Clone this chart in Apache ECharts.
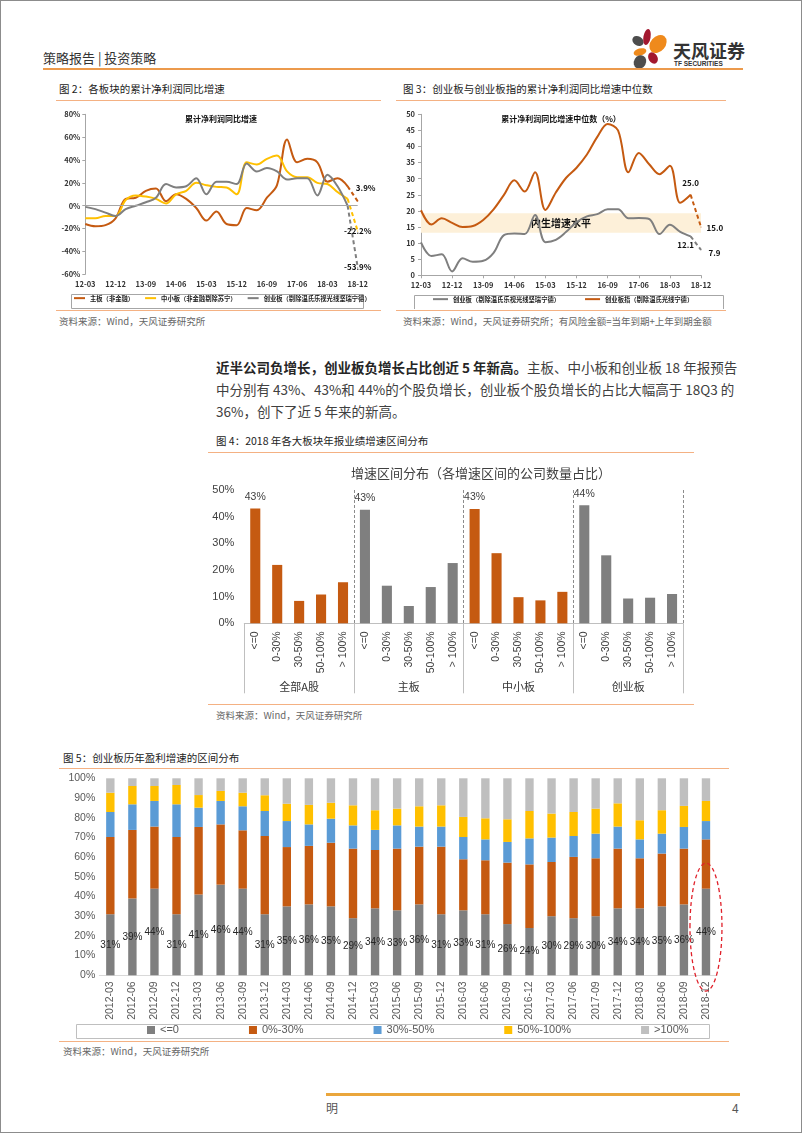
<!DOCTYPE html>
<html><head><meta charset="utf-8">
<script src="https://cdn.jsdelivr.net/npm/echarts@6/dist/echarts.min.js"></script>
<style>
body{margin:0;background:#fff;}
#page{position:relative;width:802px;height:1133px;box-sizing:border-box;border:1px solid #8c8c8c;overflow:hidden;font-family:"Noto Sans CJK SC",sans-serif;color:#333;background:#fff;}
.t{position:absolute;white-space:nowrap;}
.hl{position:absolute;height:1px;background:#f4b183;}
.ch{position:absolute;}
.src{position:absolute;white-space:nowrap;font-size:9.5px;color:#666;line-height:12px;}
.ft{position:absolute;white-space:nowrap;font-size:10.5px;color:#222;line-height:14px;}
.p{position:absolute;left:215px;white-space:nowrap;font-size:13.5px;line-height:20px;color:#404040;}
</style></head><body><div id="page">

<div class="t" style="left:42px;top:49px;font-size:13px;line-height:16px;color:#333;">策略报告&nbsp;|&nbsp;投资策略</div>
<svg style="position:absolute;left:628px;top:24px" width="50" height="48" viewBox="0 0 50 48">
  <ellipse cx="9" cy="16" rx="6" ry="4.5" transform="rotate(30 9 16)" fill="#4d4d4d"/>
  <ellipse cx="18" cy="12" rx="3.6" ry="8" transform="rotate(10 18 12)" fill="#a3182f"/>
  <ellipse cx="29" cy="19" rx="7.5" ry="10" transform="rotate(40 29 19)" fill="#ef8a1c"/>
  <ellipse cx="11" cy="27" rx="6.5" ry="3.6" transform="rotate(-15 11 27)" fill="#ef8a1c"/>
  <ellipse cx="11" cy="37" rx="6" ry="7" transform="rotate(30 11 37)" fill="#4d4d4d"/>
  <ellipse cx="24" cy="33" rx="4.5" ry="6" transform="rotate(-30 24 33)" fill="#a3182f"/>
</svg>
<div class="t" style="left:672px;top:39px;font-size:18px;line-height:20px;color:#333;font-weight:bold;letter-spacing:0px;">天风证券</div>
<div class="t" style="left:673px;top:59px;font-size:6.5px;line-height:8px;color:#333;font-weight:bold;font-family:'Liberation Sans',sans-serif;">TF SECURITIES</div>
<div style="position:absolute;left:42px;top:67px;width:700px;height:2px;background:#ec9a4c;"></div>

<div class="ft" style="left:58px;top:81px;">图 2：各板块的累计净利润同比增速</div>
<div class="hl" style="left:55px;top:99px;width:325px;"></div>
<div class="ft" style="left:402px;top:81px;">图 3：创业板与创业板指的累计净利润同比增速中位数</div>
<div class="hl" style="left:395px;top:99px;width:330px;"></div>
<div id="c2" class="ch" style="left:55px;top:100px;width:330px;height:208px;"></div>
<div id="c3" class="ch" style="left:390px;top:100px;width:340px;height:208px;"></div>
<div class="hl" style="left:55px;top:309px;width:325px;"></div>
<div class="hl" style="left:395px;top:309px;width:330px;"></div>
<div class="src" style="left:58px;top:314px;">资料来源：Wind，天风证券研究所</div>
<div class="src" style="left:402px;top:314px;">资料来源：Wind，天风证券研究所；有风险金额=当年到期+上年到期金额</div>

<div class="p" style="top:356px;"><b style="color:#262626">近半公司负增长，创业板负增长占比创近 5 年新高。</b>主板、中小板和创业板 18 年报预告</div>
<div class="p" style="top:378px;">中分别有 43%、43%和 44%的个股负增长，创业板个股负增长的占比大幅高于 18Q3 的</div>
<div class="p" style="top:400px;">36%，创下了近 5 年来的新高。</div>

<div class="ft" style="left:215px;top:433px;">图 4：2018 年各大板块年报业绩增速区间分布</div>
<div class="hl" style="left:207px;top:451px;width:486px;"></div>
<div id="c4" class="ch" style="left:200px;top:452px;width:560px;height:248px;"></div>
<div class="hl" style="left:207px;top:703px;width:486px;"></div>
<div class="src" style="left:215px;top:708px;">资料来源：Wind，天风证券研究所</div>

<div class="ft" style="left:62px;top:750px;">图 5：创业板历年盈利增速的区间分布</div>
<div class="hl" style="left:58px;top:767px;width:670px;"></div>
<div id="c5" class="ch" style="left:60px;top:770px;width:670px;height:268px;"></div>
<div class="hl" style="left:58px;top:1040px;width:670px;"></div>
<div class="src" style="left:62px;top:1044px;">资料来源：Wind，天风证券研究所</div>

<div style="position:absolute;left:325px;top:1092px;width:414px;height:3px;background:#eaa63c;"></div>
<div class="t" style="left:325px;top:1100px;font-size:12px;line-height:14px;color:#555;">明</div>
<div class="t" style="left:731px;top:1100px;font-size:12px;line-height:14px;color:#555;">4</div>
</div>

<script>
// ---------- data ----------
const quarters = ['12-03','12-06','12-09','12-12','13-03','13-06','13-09','13-12','14-03','14-06','14-09','14-12','15-03','15-06','15-09','15-12','16-03','16-06','16-09','16-12','17-03','17-06','17-09','17-12','18-03','18-06','18-09','18-12'];
const mainBoard = [-16,-18,-17,-11,6,7,13,15,4,10,6,-2,-13,-5,-16,-17,-2,-4,7,18,58,38,41,38,21,24,17,3.9];
const smeBoard = [-11,-11,-9,-9,5,9,8,6,2,10,13,20,18,16.5,16,10,38,36,41,44,30,25,25,20,19,12,6,-22.2];
const gemBoard = [-1,-3,-6,-9,-3,0,3,7,19,16,17,24,10,21,21,19,37,30,33,30,23,24,24,9,27,17,0,-53.9];
const fig2Names = ['主板（非金融）','中小板（非金融剔除苏宁）','创业板（剔除温氏乐视光线坚瑞宁德）'];

const gemMedian = [10.2,6,6.5,1.2,5.3,4.2,4.5,7,12.5,13,12.8,18.7,10.3,11,13.5,16.5,18.3,19,20.5,20.5,17.7,17.8,17.5,12.8,15.7,13.5,12.1,7.9];
const gemIndexMedian = [20.2,15.8,17.7,16.3,15.0,15.3,17.2,20.5,25,29.5,26,32,20.3,25.7,30.3,33.4,37.5,43,47,45,32,38,34.5,31.4,34,22.5,25.0,15.0];
const innerBand = [13.2,19.3];
const fig3Names = ['创业板（剔除温氏乐视光线坚瑞宁德）','创业板指（剔除温氏光线宁德）'];

const boards4 = ['全部A股','主板','中小板','创业板'];
const buckets4 = ['<=0','0-30%','30-50%','50-100%','> 100%'];
const shareAllA = [43.1,21.9,8.4,10.8,15.4];
const shareMain = [42.6,14.1,6.5,13.6,22.6];
const shareSme = [42.9,26.3,9.8,8.6,11.8];
const shareGem = [44.3,25.5,9.3,9.6,11.0];

const periods5 = ['2012-03','2012-06','2012-09','2012-12','2013-03','2013-06','2013-09','2013-12','2014-03','2014-06','2014-09','2014-12','2015-03','2015-06','2015-09','2015-12','2016-03','2016-06','2016-09','2016-12','2017-03','2017-06','2017-09','2017-12','2018-03','2018-06','2018-09','2018-12'];
const bandNames5 = ['<=0','0%-30%','30%-50%','50%-100%','>100%'];
const shareNeg = [31,39,44,31,41,46,44,31,35,36,35,29,34,33,36,31,33,31,26,24,30,29,30,34,34,35,36,44];
const share0to30 = [39.2,34.8,31.5,39.2,34.3,30.6,29.6,39.7,30.1,29.7,32.3,35.3,29.6,31.3,29.3,34.3,25.9,27.4,31.2,32.3,27.5,31.1,29.4,30.3,25.4,26.8,28.3,25.0];
const share30to50 = [12.7,13.0,13.0,16.6,9.8,11.9,12.2,12.7,13.2,10.9,12.2,11.8,10.2,11.8,10.2,10.2,11.3,10.6,10.5,13.2,12.4,10.6,12.5,11.2,9.6,10.1,11.0,9.3];
const share50to100 = [9.8,9.3,7.6,9.8,6.4,5.1,6.9,8.0,8.8,9.9,8.1,10.2,10.0,8.5,10.3,10.8,10.2,10.7,11.5,13.9,12.2,12.2,12.7,11.8,9.7,11.9,10.7,10.2];
const shareOver100 = [7.3,3.9,3.9,3.4,8.5,6.4,7.3,8.6,12.9,13.5,12.4,13.7,16.2,15.4,14.2,13.7,19.6,20.3,20.8,16.6,17.9,17.1,15.4,12.7,21.3,16.2,14.0,11.5];

// ---------- helpers ----------
const FONT = '"Noto Sans CJK SC","Liberation Sans",sans-serif';
const ORANGE = '#c55a11', GRAY = '#7f7f7f', YELLOW = '#ffc000', BLUE = '#5b9bd5', LGRAY = '#bfbfbf';
const solidPart = a => a.map((v,i)=> i < a.length-1 ? v : null);
function dashPart(a, labFirst, labLast){
  return a.map((v,i)=>{
    if (i < a.length-2) return null;
    const lab = i === a.length-1 ? labLast : labFirst;
    return lab ? {value:v, label:lab} : v;
  });
}
function lineSeries(name, data, color, width){
  return {name, type:'line', data, smooth:0.35, showSymbol:false, connectNulls:false,
    lineStyle:{color, width:width||2}, itemStyle:{color}, z:3};
}
function dashSeries(name, data, color){
  return {name, type:'line', data, smooth:false, symbol:'circle', symbolSize:1, showSymbol:true,
    lineStyle:{color, width:2, type:[4,3]}, itemStyle:{color}, z:3,
    label:{show:false, fontSize:8, fontWeight:'bold', color:'#111', fontFamily:FONT}};
}

// ---------- Fig 2 ----------
const c2 = echarts.init(document.getElementById('c2'));
c2.setOption({
  animation:false,
  textStyle:{fontFamily:FONT},
  title:{text:'累计净利润同比增速', left:'center', top:9, textStyle:{fontSize:8, fontWeight:'bold', color:'#111', fontFamily:FONT}},
  graphic:[{type:'rect', left:13, top:191, shape:{width:292, height:14}, style:{fill:'none', stroke:'#a6a6a6', lineWidth:1}, silent:true}],
  legend:{data:fig2Names, left:18, top:194, itemWidth:11, itemHeight:2, itemGap:11, icon:'rect', padding:0,
    textStyle:{fontSize:6.3, fontWeight:'bold', color:'#222', fontFamily:FONT}},
  grid:{left:29.3, right:28.3, top:13.3, height:160},
  xAxis:{type:'category', data:quarters, boundaryGap:false,
    axisLine:{show:false, onZero:false}, axisTick:{show:false},
    axisLabel:{interval:2, fontSize:7.5, fontWeight:'bold', color:'#333', margin:6}},
  yAxis:{type:'value', min:-60, max:80, interval:20,
    axisLine:{show:true, lineStyle:{color:'#a6a6a6'}}, axisTick:{show:true, length:3, lineStyle:{color:'#a6a6a6'}},
    splitLine:{show:false},
    axisLabel:{formatter:'{value}%', fontSize:7.5, fontWeight:'bold', color:'#333', margin:5}},
  series:[
    {name:'zero', type:'line', data:[], silent:true,
      markLine:{silent:true, symbol:'none', label:{show:false}, lineStyle:{color:'#a6a6a6', width:1, type:'solid'}, data:[{yAxis:0}]}},
    lineSeries(fig2Names[0], solidPart(mainBoard), ORANGE),
    lineSeries(fig2Names[1], solidPart(smeBoard), YELLOW),
    lineSeries(fig2Names[2], solidPart(gemBoard), GRAY),
    dashSeries('主板预测', dashPart(mainBoard, null, {show:true, position:'top', offset:[8,-4], formatter:'{c}%'}), ORANGE),
    dashSeries('中小板预测', dashPart(smeBoard, null, {show:true, position:'inside', formatter:'{c}%'}), YELLOW),
    dashSeries('创业板预测', dashPart(gemBoard, null, {show:true, position:'inside', formatter:'{c}%'}), GRAY)
  ]
});

// ---------- Fig 3 ----------
const c3 = echarts.init(document.getElementById('c3'));
c3.setOption({
  animation:false,
  textStyle:{fontFamily:FONT},
  title:{text:'累计净利润同比增速中位数（%）', left:'center', top:9, textStyle:{fontSize:8, fontWeight:'bold', color:'#111', fontFamily:FONT}},
  graphic:[{type:'rect', left:21, top:192, shape:{width:309, height:14}, style:{fill:'none', stroke:'#a6a6a6', lineWidth:1}, silent:true}],
  legend:{data:fig3Names, left:42, top:195, itemWidth:15, itemHeight:2, itemGap:25, icon:'rect', padding:0,
    textStyle:{fontSize:6.3, fontWeight:'bold', color:'#222', fontFamily:FONT}},
  grid:{left:30, right:30, top:13.3, height:161},
  xAxis:{type:'category', data:quarters, boundaryGap:false,
    axisLine:{show:true, lineStyle:{color:'#a6a6a6'}}, axisTick:{show:true, interval:2, length:3, lineStyle:{color:'#a6a6a6'}},
    axisLabel:{interval:2, fontSize:7.5, fontWeight:'bold', color:'#333', margin:6}},
  yAxis:{type:'value', min:0, max:50, interval:5,
    axisLine:{show:true, lineStyle:{color:'#a6a6a6'}}, axisTick:{show:true, length:3, lineStyle:{color:'#a6a6a6'}},
    splitLine:{show:false},
    axisLabel:{fontSize:7.5, fontWeight:'bold', color:'#333', margin:6}},
  series:[
    {name:'band', type:'line', data:[], silent:true, z:1,
      markArea:{silent:true, itemStyle:{color:'#fdf0d9'},
        label:{show:true, position:'inside', formatter:'内生增速水平', fontSize:10, fontWeight:'bold', color:'#111', fontFamily:FONT},
        data:[[{yAxis:innerBand[0]},{yAxis:innerBand[1]}]]}},
    lineSeries(fig3Names[0], solidPart(gemMedian), GRAY),
    lineSeries(fig3Names[1], solidPart(gemIndexMedian), ORANGE),
    dashSeries('创业板预测', dashPart(gemMedian, {show:true, position:'bottom', offset:[-5,-1], formatter:p=>p.value.toFixed(1)}, {show:true, position:'right', offset:[2,3], formatter:p=>p.value.toFixed(1)}), GRAY),
    dashSeries('创业板指预测', dashPart(gemIndexMedian, {show:true, position:'top', offset:[0,-2], formatter:p=>p.value.toFixed(1)}, {show:true, position:'right', offset:[0,1], formatter:p=>p.value.toFixed(1)}), ORANGE)
  ]
});

// ---------- Fig 4 ----------
const c4 = echarts.init(document.getElementById('c4'));
const fig4Values = [].concat(shareAllA, shareMain, shareSme, shareGem);
const fig4Cats = [].concat(buckets4, buckets4, buckets4, buckets4);
c4.setOption({
  animation:false,
  textStyle:{fontFamily:FONT},
  graphic:[{type:'text', left:'center', top:14, style:{text:'增速区间分布（各增速区间的公司数量占比）', fontSize:13, fill:'#404040', fontFamily:FONT}, silent:true, x:-27}],
  grid:{left:43.3, right:78, top:37, height:133.3},
  xAxis:[
    {type:'category', data:fig4Cats, axisLine:{show:true, lineStyle:{color:'#bfbfbf'}}, axisTick:{show:false},
      splitLine:{show:true, interval:(i)=> i>0 && i%5===0, lineStyle:{color:'#8c8c8c', type:[3,2], width:1}},
      axisLabel:{interval:0, rotate:90, fontSize:10.5, color:'#404040', margin:8, fontFamily:'"Liberation Sans",sans-serif'}},
    {type:'category', data:boards4, position:'bottom', axisLine:{show:false},
      axisTick:{show:true, length:70, lineStyle:{color:'#bfbfbf'}},
      axisLabel:{fontSize:11, color:'#333', margin:58}}
  ],
  yAxis:{type:'value', min:0, max:50, interval:10, axisLine:{show:false}, axisTick:{show:false}, splitLine:{show:false},
    axisLabel:{formatter:'{value}%', fontSize:11, color:'#404040', margin:10, fontFamily:'"Liberation Sans",sans-serif'}},
  series:[{type:'bar', xAxisIndex:0, barWidth:'46%',
    data:fig4Values.map((v,i)=>({value:v, itemStyle:{color: Math.floor(i/5)%2===0 ? ORANGE : GRAY},
      label:{show:i%5===0}})),
    label:{position:'top', distance:6, fontSize:10.5, color:'#404040', formatter:p=>Math.round(p.value)+'%', fontFamily:'"Liberation Sans",sans-serif'}}]
});

// ---------- Fig 5 ----------
const c5 = echarts.init(document.getElementById('c5'));
const fig5Data = [shareNeg, share0to30, share30to50, share50to100, shareOver100];
const fig5Colors = [GRAY, ORANGE, BLUE, YELLOW, LGRAY];
c5.setOption({
  animation:false,
  textStyle:{fontFamily:FONT},
  graphic:[{type:'rect', left:13, top:251, shape:{width:633, height:14}, style:{fill:'none', stroke:'#bfbfbf', lineWidth:1}, silent:true}],
  legend:{data:bandNames5, left:86, top:253.5, itemWidth:8, itemHeight:8, itemGap:70, icon:'rect', padding:0,
    textStyle:{fontSize:11, color:'#595959', fontFamily:'"Liberation Sans",sans-serif'}},
  grid:{left:38.3, right:14, top:7.3, height:197},
  xAxis:{type:'category', data:periods5, axisLine:{show:true, lineStyle:{color:'#d9d9d9'}}, axisTick:{show:false},
    axisLabel:{interval:0, rotate:90, fontSize:10.5, color:'#595959', margin:6, fontFamily:'"Liberation Sans",sans-serif'}},
  yAxis:{type:'value', min:0, max:100, interval:10, axisLine:{show:false}, axisTick:{show:false}, splitLine:{show:false},
    axisLabel:{formatter:'{value}%', fontSize:10.5, color:'#595959', margin:4, fontFamily:'"Liberation Sans",sans-serif'}},
  series:fig5Data.map((d,k)=>({name:bandNames5[k], type:'bar', stack:'all', data:d, barWidth:'38%',
    itemStyle:{color:fig5Colors[k]},
    label:{show:k===0, position:'inside', formatter:'{c}%', fontSize:10, color:'#262626', fontFamily:'"Liberation Sans",sans-serif'}}))
});
const ctr = c5.convertToPixel({xAxisIndex:0, yAxisIndex:0}, [periods5.length-1, 24.5]);
const ell = c5.convertToPixel({xAxisIndex:0, yAxisIndex:0}, [periods5.length-1, 57]);
c5.setOption({graphic:[
  {type:'rect', left:13, top:251, shape:{width:633, height:14}, style:{fill:'none', stroke:'#bfbfbf', lineWidth:1}, silent:true},
  {type:'ellipse', shape:{cx:ctr[0], cy:ctr[1], rx:16, ry:(ctr[1]-ell[1])}, style:{fill:'none', stroke:'#e0202a', lineWidth:1.3, lineDash:[4,3]}, silent:true, z:10}
]});
</script>
</body></html>
